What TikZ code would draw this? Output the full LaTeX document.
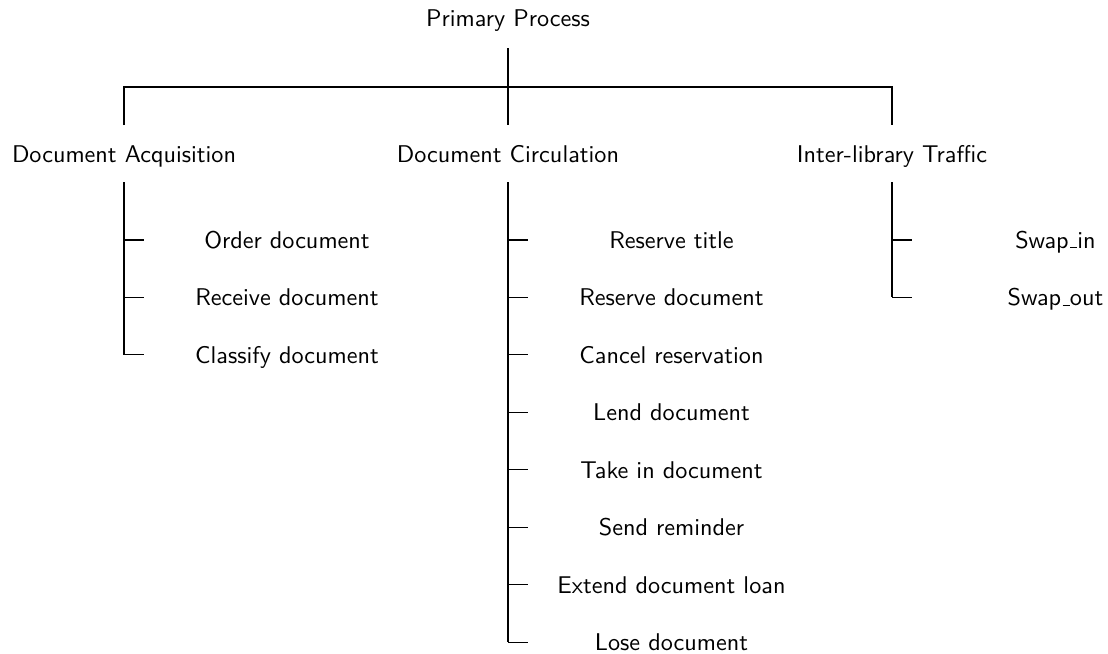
\documentclass[tikz,border=0pt]{standalone}
\usepackage{fontspec}
% short baseline rule in the style of the classic text underscore
\newcommand\lowbar{\leavevmode\kern.06em\vbox{\hrule width.3em}}
\begin{document}
\begin{tikzpicture}[x=0.4132pt, y=-0.4132pt,
    lbl/.style={font=\sffamily, anchor=base, inner sep=0pt},
    link/.style={draw=black, line width=0.45pt}]
\useasboundingbox (0,0) rectangle (1108,654);

% top level and the three sub-processes
\node[lbl] (root) at (508,26)  {Primary Process};
\node[lbl] (acq)  at (124,162) {Document Acquisition};
\node[lbl] (circ) at (508,162) {Document Circulation};
\node[lbl] (ill)  at (892,162) {Inter-library Traffic};

% fork below the root
\coordinate (rootstem) at (508,48);
\coordinate (forkL) at (124,87);
\coordinate (forkR) at (892,87);
\coordinate (acqin)  at (124,125);
\coordinate (circin) at (508,125);
\coordinate (illin)  at (892,125);
\draw[link] (rootstem) -- (circin);
\draw[link] (acqin) -- (forkL) -- (forkR) -- (illin);

% trunk tops below each sub-process
\coordinate (acqout)  at (124,182);
\coordinate (circout) at (508,182);
\coordinate (illout)  at (892,182);

% Document Acquisition
\foreach \i/\t in {0/Order document, 1/Receive document, 2/Classify document}{
  \node[lbl] (a\i) at (287,{248.3+57.45*\i}) {\t};
  \coordinate (a\i t) at (144,{240+57.45*\i});
  \draw[link] (acqout |- a\i t) -- (a\i t);
}
\draw[link] (acqout) -- (acqout |- a2t);

% Document Circulation
\foreach \i/\t in {0/Reserve title, 1/Reserve document, 2/Cancel reservation,
                   3/Lend document, 4/Take in document, 5/Send reminder,
                   6/Extend document loan, 7/Lose document}{
  \node[lbl] (c\i) at (671.5,{248.3+57.45*\i}) {\t};
  \coordinate (c\i t) at (528,{240+57.45*\i});
  \draw[link] (circout |- c\i t) -- (c\i t);
}
\draw[link] (circout) -- (circout |- c7t);

% Inter-library Traffic
\foreach \i/\t in {0/Swap\lowbar in, 1/Swap\lowbar out}{
  \node[lbl] (s\i) at (1055.5,{248.3+57.45*\i}) {\t};
  \coordinate (s\i t) at (912,{240+57.45*\i});
  \draw[link] (illout |- s\i t) -- (s\i t);
}
\draw[link] (illout) -- (illout |- s1t);
\end{tikzpicture}
\end{document}
